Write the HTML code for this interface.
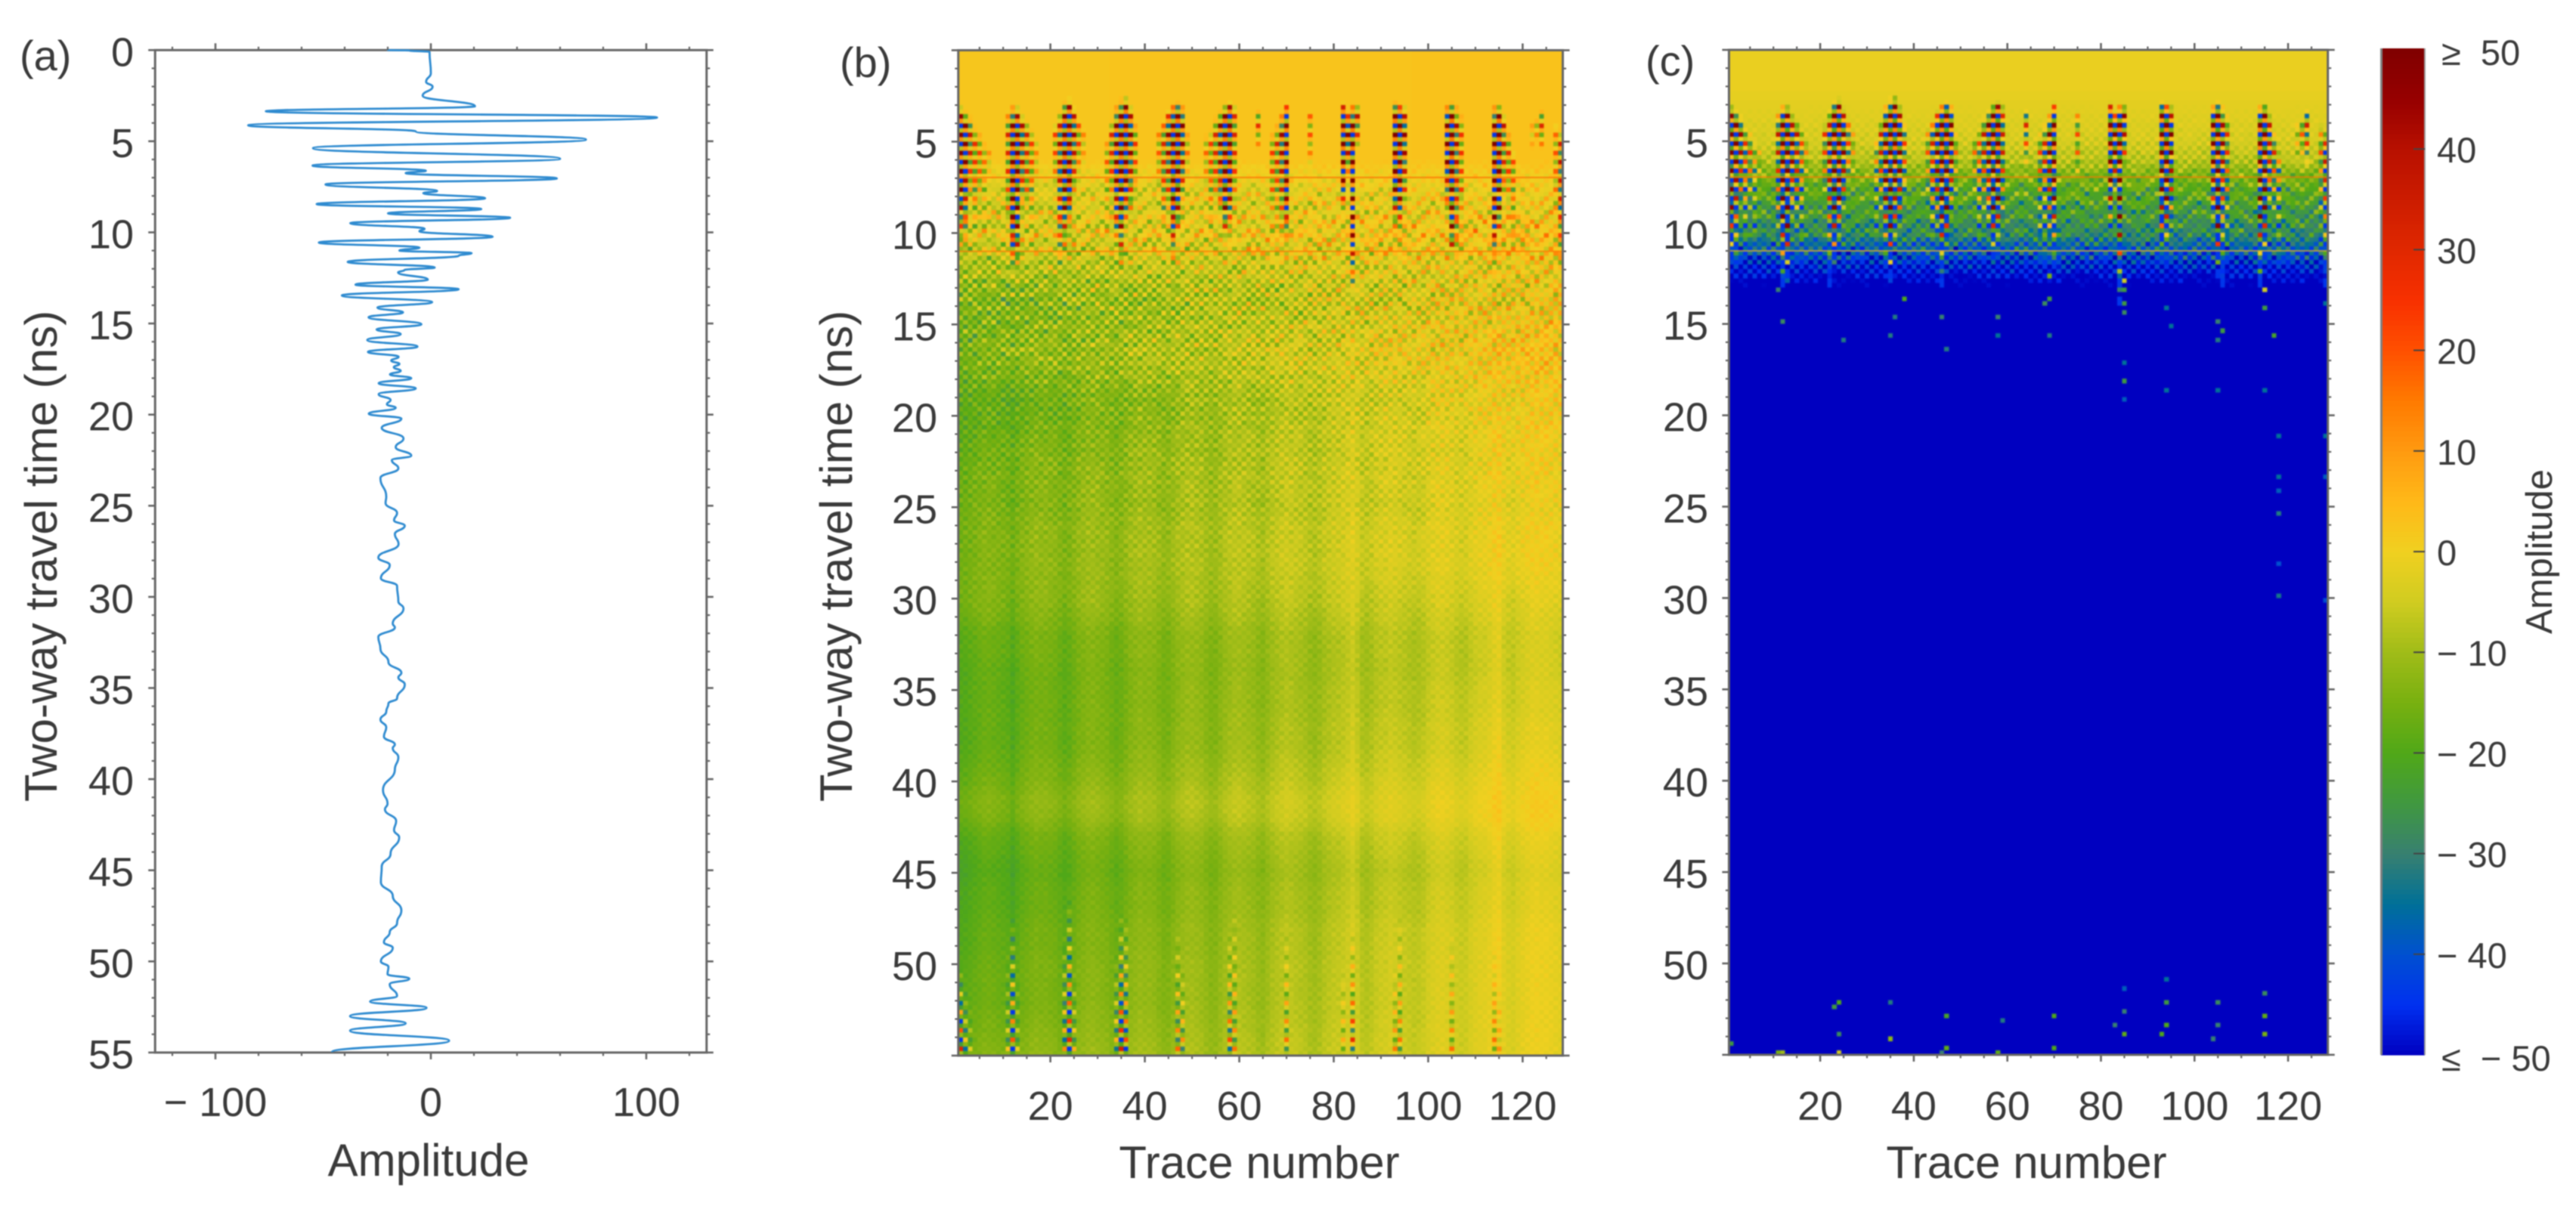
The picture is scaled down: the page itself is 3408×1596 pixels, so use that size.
<!DOCTYPE html>
<html lang="en">
<head>
<meta charset="utf-8">
<title>GPR traces and amplitude panels</title>
<style>
html,body{margin:0;padding:0;background:#fff;width:3408px;height:1596px;overflow:hidden}
svg{display:block;filter:blur(.7px)}
text{font-family:"Liberation Sans",Arial,sans-serif;fill:#3a3a3a;white-space:pre}
</style>
</head>
<body>
<svg id="figure" xmlns="http://www.w3.org/2000/svg" width="3408" height="1596" viewBox="0 0 3408 1596">
  <defs>
    <filter id="cellBlur" x="-2%" y="-2%" width="104%" height="104%" color-interpolation-filters="sRGB"><feGaussianBlur stdDeviation="0.9"/></filter>
    <clipPath id="clipB"><rect x="1267.8" y="66.5" width="799.8" height="1330.5"/></clipPath>
    <clipPath id="clipC"><rect x="2287.4" y="66" width="792.4" height="1330"/></clipPath>
    <clipPath id="clipA"><rect x="205.5" y="60" width="728.5" height="1333"/></clipPath>
  </defs>
  <rect width="3408" height="1596" fill="#fff"/>

  <g id="panelA"></g>
  <g id="panelB"></g>
  <g id="panelC"></g>
  <g id="colorbar"></g>

  <text x="26" y="93" font-size="56">(a)</text>
  <text x="1111" y="102" font-size="56">(b)</text>
  <text x="2177" y="100" font-size="56">(c)</text>

  <text transform="translate(75,736) rotate(-90)" text-anchor="middle" font-size="60">Two-way travel time (ns)</text>
  <text transform="translate(1127,736) rotate(-90)" text-anchor="middle" font-size="60">Two-way travel time (ns)</text>
  <text x="567" y="1556" text-anchor="middle" font-size="60">Amplitude</text>
  <text x="1666" y="1559" text-anchor="middle" font-size="60">Trace number</text>
  <text x="2681" y="1559" text-anchor="middle" font-size="60">Trace number</text>
  <text transform="translate(3376,730) rotate(-90)" text-anchor="middle" font-size="49">Amplitude</text>
</svg>

<script>
// ---------- panel (a): single trace, turning points ----------
const traceTimes = [0,0.02,0.1,1.27,1.74,2.01,2.5,3.08,3.36,3.7,4.13,4.46,4.91,5.38,5.96,6.34,6.62,6.75,7.04,7.37,7.73,7.85,8.13,8.45,8.72,8.96,9.2,9.5,9.8,9.94,10.24,10.56,10.84,11,11.14,11.28,11.62,11.93,12.07,12.2,12.59,12.87,13.12,13.46,13.83,14.13,14.39,14.66,15.04,15.33,15.58,15.91,16.27,16.56,16.83,17.04,17.22,17.4,17.6,17.8,18,18.28,18.56,18.88,19.2,19.43,19.63,19.95,20.22,20.73,21.3,21.79,22.25,22.5,22.95,23.48,24.5,24.85,25.4,25.8,26.1,26.55,27.1,27.85,28.25,28.98,29.4,30.25,30.63,31.47,31.68,32.2,32.84,33.58,34.17,34.42,34.8,35.57,35.85,36.3,36.73,37.15,37.67,38.1,38.3,38.8,39.47,40.6,41.35,41.66,42.3,42.8,43.2,44.1,44.8,45.65,46.4,47.2,47.9,48.4,48.95,49.25,50,50.3,50.7,50.95,51.25,51.9,52.2,52.55,53,53.4,53.8,54.35,54.97];
const traceAmplitudes = [-20,-10,-0.6,0,-2.2,0.8,-3.8,20.5,-76.6,105,-84.8,-7,72,-54.7,60,-54.9,-2.3,-11.7,58.5,-48.9,2.9,-3.5,25.2,-53,23.4,-19.9,36.8,-37.4,-2.9,-5.3,28.7,-52,-5.3,-14.6,18.9,13,-38.6,1.8,-12.3,-15.2,-1.4,-35,12.9,-41.3,0.6,-24.8,-12.9,-28.9,-4.4,-25.2,-14,-29.5,-6.2,-29.2,-15,-18.4,-14.6,-17.2,-14,-19,-9.1,-24.2,-7,-24.2,-18.7,-20.4,-16.3,-28.8,-13.7,-22.8,-12.7,-16.3,-9.1,-18.1,-15.1,-23.4,-20.7,-21,-15.7,-17.1,-12.1,-16.7,-15,-24.4,-19.1,-23.2,-15.7,-15.1,-12.7,-17.7,-16.7,-24.4,-23.4,-19.7,-13.7,-15.1,-12.1,-15.7,-19.7,-20.7,-23.4,-20.7,-21.8,-16.7,-17.7,-15.1,-16.7,-22.2,-20.1,-21.3,-16.1,-17.1,-14.7,-18.7,-22.8,-23.2,-17.7,-13.7,-15.7,-19.1,-21.8,-17.7,-23.2,-19.7,-20.1,-10,-19.1,-15.7,-28.2,-2,-37.5,-11.7,-37.5,8.5,-45.9];
const amplitudeTicks = [-100,0,100];
const amplitudeTickLabels = ["− 100","0","100"];
const timeTicksA = [0,5,10,15,20,25,30,35,40,45,50,55];
const timeTicksImage = [5,10,15,20,25,30,35,40,45,50];
const traceTicks = [20,40,60,80,100,120];

// ---------- colour scale ----------
const colorStops = [-50,-45,-40,-35,-30,-25,-20,-15,-10,-5,0,5,10,15,20,25,30,40,45,50];
const colorValues = ["#0000c0","#0030f0","#0050d0","#007098","#388070","#409840","#50a818","#78b010","#a0bc18","#d0cc20","#f0d020","#ffb818","#ff9a10","#ff7a00","#ff5000","#f83000","#e02800","#b81000","#960000","#800000"];
const colorbarTicks = [50,40,30,20,10,0,-10,-20,-30,-40,-50];
const colorbarLabels = ["≥  50","40","30","20","10","0","− 10","− 20","− 30","− 40","≤  − 50"];

// ---------- heatmap background, one value per nanosecond (0..55) ----------
const bgLeft = [2,2,2,2,2,2,2,-2,-4,-4,-3,-6,-9,-13,-15,-15,-14,-14,-16,-18,-18,-17,-16,-15,-15,-15,-14,-14,-14,-14,-14,-15,-17,-17,-18,-18,-18,-18,-18,-17,-16,-14,-15,-18,-19,-20,-19,-19,-18,-18,-17,-17,-17,-16,-15,-14];
const bgRight = [3,3,3,3,3,3,3,1,0,1,3,2,0,0,1,2,3,3,2,1,1,1,0,0,0,-1,0,0,0,-1,-2,-3,-4,-4,-4,-3,-3,-2,-2,-1,0,1,1,-1,-2,-3,-2,-2,-1,-1,-1,-1,-1,-1,-1,-1];
const bandWeight = [0,0,0,0,0,0,0,0,0,0,0,0,0,0,0,0.1,0.2,0.2,0.3,0.3,0.4,0.4,0.4,0.5,0.5,0.5,0.5,0.5,0.5,0.5,0.6,0.6,0.6,0.6,0.6,0.6,0.6,0.6,0.6,0.6,0.6,0.6,0.6,0.6,0.6,0.6,0.6,0.6,0.6,0.6,0.6,0.6,0.6,0.6,0.6,0.6];
const checkerB = [0,0,0,0,0,0,0,2,4,5,6,6,6,7,7,6,6,5,5,4,4,3,3,3,2.5,2.5,2,2,1.5,1.5,1.5,1.2,1.2,1,1,1,1,1,1,1,1,0.8,0.8,0.8,0.8,0.8,0.8,0.8,0.8,0.8,0.8,0.8,0.8,0.8,0.8,0.8];
const rippleB = [0,0,0,0,0,0,0,2,4,5,6,6,3,3,2,2,2,1,1,0,0,0,0,0,0,0,0,0,0,0,0,0,0,0,0,0,0,0,0,0,0,0,0,0,0,0,0,0,0,0,0,0,0,0,0,0];

// panel (c) per-nanosecond levels
const bgC = [-1,-1,-1,-2,-3,-4,-7,-15,-20,-24,-28,-38,-48,-56,
  -60,-60,-60,-60,-60,-60,-60,-60,-60,-60,
  -60,-60,-60,-60,-60,-60,-60,-60,-60,-60,
  -60,-60,-60,-60,-60,-60,-60,-60,-60,-60,
  -60,-60,-60,-60,-60,-60,-60,-60,-60,-60,
  -60,-60];
const checkerC = [0,0,0,0,1,2,3,4,4,4,5,6,7,4,0,0,0,0,0,0,0,0,0,0,0,0,0,0,0,0,0,0,0,0,0,0,0,0,0,0,0,0,0,0,0,0,0,0,0,0,0,0,0,0,0,0];
const rippleC = [0,0,0,0,0,0,0,4,6,5,5,3,0,0,0,0,0,0,0,0,0,0,0,0,0,0,0,0,0,0,0,0,0,0,0,0,0,0,0,0,0,0,0,0,0,0,0,0,0,0,0,0,0,0,0,0];

// one value per trace (1..128): vertical banding and chevron shift of ripple rows
const traceBand = [-3,-3,-2,-1,0,1,1,0,-1,-2,-3,-6,-3,-1,0,1,2,1,1,0,-1,-3,-5,-4,-2,0,1,2,2,1,0,-1,-3,-5,-4,-2,0,1,2,1,1,0,-2,-4,-4,-2,0,1,2,2,1,0,-2,-4,-4,-2,0,1,2,2,1,0,-1,-3,-4,-2,0,1,2,3,2,1,0,-1,-3,-4,-3,-1,0,1,1,2,3,5,2,-2,-3,-2,0,1,1,2,1,0,-1,-2,-3,-3,-2,0,1,2,2,1,0,-2,-3,-3,-1,0,1,1,2,4,5,0,-2,-3,-1,0,1,2,2,1,1,0,-1,-2];
const moveout = [0,1,1,2,2,3,3,3,2,2,1,1,0,1,1,2,2,3,3,3,2,2,1,1,0,0,1,2,2,3,3,3,2,2,1,0,0,1,1,2,3,3,3,2,1,1,0,0,1,2,2,3,3,2,2,1,0,0,1,1,2,3,3,3,2,1,1,0,1,1,2,2,3,3,3,2,1,1,0,1,2,2,3,3,2,1,1,0,1,2,2,3,3,2,1,0,0,1,2,3,3,3,2,1,0,1,1,2,3,3,2,1,1,0,1,2,2,3,3,2,1,1,0,1,2,3,3,2];

// strength of the fine texture, tile of 11 rows by 13 traces
const textureTile = [
[1.3,0.5,0.9,1.5,0.3,1.0,0.7,1.4,0.4,1.1,0.6,1.5,0.8],
[0.6,1.4,0.3,0.8,1.2,0.5,1.5,0.4,1.0,0.7,1.3,0.2,1.1],
[0.9,0.2,1.5,0.6,1.0,1.4,0.3,0.8,1.3,0.5,0.9,1.2,0.4],
[1.5,0.7,0.4,1.2,0.5,0.8,1.1,0.3,0.6,1.5,0.2,0.9,1.3],
[0.3,1.1,0.8,0.2,1.4,0.6,0.5,1.3,1.0,0.4,1.2,0.7,0.6],
[1.0,0.5,1.3,0.9,0.3,1.2,0.8,0.6,1.5,0.2,0.7,1.4,0.4],
[0.7,1.5,0.2,1.1,0.8,0.4,1.4,0.9,0.3,1.2,0.6,0.5,1.3],
[1.2,0.4,0.9,0.5,1.5,0.7,0.2,1.1,0.8,0.6,1.4,1.0,0.3],
[0.4,1.0,1.4,0.3,0.6,1.3,0.9,0.5,1.2,0.8,0.2,1.5,0.7],
[1.4,0.8,0.5,1.0,0.2,0.9,1.2,0.7,0.4,1.3,1.1,0.3,0.6],
[0.5,1.2,0.7,1.4,0.9,0.3,0.6,1.5,1.1,0.2,0.8,0.4,1.0]];

// wave shapes over four samples (about 1 ns)
const wavelet = [1,0.15,-0.85,-0.15];
const rippleShape = [-1,-0.3,1,0.3];
const burstFloor = -44;

// ---------- high-amplitude columns near the top ----------
const burstTraces = [1,2,3,4,5,6,7, 11,12,13,14,15,16,17, 21,22,23,24,25,26,27, 32,33,34,35,36,37,38, 43,44,45,46,47,48,49, 53,54,55,56,57,58,59, 64, 67,68,69,70, 75, 82,83,84,85, 93,94,95, 104,105,106,107, 114,115,116,117,118, 122,123,124, 127,128];
const burstStarts = [3,3.2,3.6,4.1,4.5,5,5.4, 3.3,3,3,3.5,3.8,4.2,4.8, 4,3.2,2.7,2.6,3.1,3.8,4.3, 4.8,3.8,3,2.6,2.5,3,4, 4.3,3.7,3.2,2.9,2.7,3,4.5, 4.6,4.3,3.6,3.2,2.9,2.7,2.9, 3.2, 4.5,4,3.4,2.8, 3.3, 2.8,3.4,2.9,3, 2.7,2.9,3, 3,2.7,3,3.5, 3,2.9,3.5,4.5,5.5, 4,3.7,3.2, 4,4.3];
const burstEnds = [10.5,11,8,10,9,10,7, 10,12.5,12,9,9,10,8, 8,12,11,10,8,7,6.5, 10,9,11,12,10,9,8, 8,10,9,12,10,9,7, 8,10,9,9.5,10.5,10,9, 5.5, 10,11,10,11, 6.5, 9,7,13.5,5.5, 10,10,9, 9,11.5,12,10, 12.5,10.5,8,9,11, 5.5,5,5.5, 10,12];
const burstAmps = [65,55,36,26,22,16,10, 30,75,75,44,32,22,12, 22,42,75,75,44,24,12, 18,30,58,75,80,48,25, 18,30,45,75,80,48,16, 16,22,30,48,75,85,30, 28, 22,30,42,70, 20, 75,50,75,38, 75,80,45, 60,80,40,24, 75,80,36,26,22, 10,18,30, 18,36];

// ---------- rising columns near the bottom of panel (b), ending at 55 ns ----------
const tailTraces = [1,2,3,11,12,13,23,24,25,34,35,36,47,48,58,59,70,82,84,93,94,105,114,115];
const tailStarts = [50,51,52,49,47,50,48,46,50,49,47,47,48,50,48,47,48,50,48,50,47,48,49,51];
const tailAmps = [50,25,14,18,42,14,28,50,20,25,48,38,28,26,34,24,26,16,36,20,24,20,20,12];

// ---------- isolated bright cells in the saturated part of panel (c) ----------
const speckTraces = [11,38,36,12,25,35,46,47,85,85,85,85,85,85,85,69,69,68,69,58,58,94,95,105,105,118,118,118,118,118,118,128,128,128,128,117,115,115,115,106,105,94, 24,23,35,47,24,35,35,47,46,59,58,70,70,85,83,85,85,94,94,93,94,12,11,1,24,105,105,104,115,115,115];
const speckTimes = [13,13.5,14.6,14.9,15.8,15.7,14.7,16.3,12.5,13.2,13.8,14.4,18.1,17.1,19.1,12.4,13.5,13.9,15.7,14.7,15.7,14,15,14.8,15.8,21,23.3,25.4,29.9,24.2,28,21,23.3,30,13.9,15.6,13,14,18.5,15.4,18.5,18.5, 52.1,52.3,52.2,52.9,53.8,54,54.1,54.7,54.9,53,54.8,52.9,54.6,53.8,53.4,52.6,51.4,52.1,53.4,53.8,50.9,54.9,54.9,54.3,54.9,52.1,53.4,54.2,51.7,52.8,53.8];
const speckValues = [-30,-20,-32,-28,-32,-32,-30,-32,-5,-25,-25,-28,-25,-35,-38,-15,-25,-28,-32,-30,-35,-35,-35,-30,-32,-35,-35,-32,-33,-38,-40,-35,-38,-40,-35,-22,-5,-25,-35,-25,-35,-35, -20,-25,-32,-22,-28,-12,-12,-18,-30,-32,-18,-20,-20,-18,-30,-30,-38,-25,-20,-20,-35,-10,-15,-25,-5,-28,-30,-30,-28,-18,-15];

// ---------- horizontal hairlines ----------
const hairTimes = [6.96,11];
const hairValuesB = [18,16];
const hairValuesC = [16,5];

// ---------- axis functions ----------
const xA = v => 570 + v * 2.85;
const yA = t => 66.3 + t * 24.12;
const xB = v => 1267.8 + (v - 0.5) * 6.248;
const yB = t => 66.5 + t * 24.19;
const xC = v => 2287.4 + (v - 0.5) * 6.19;
const yC = t => 66 + t * 24.18;
const yBar = v => 730 - v * 13.32;

const NS = 'http://www.w3.org/2000/svg';
const AXIS = '#666666';

function make(tag, parent, attrs) {
  const el = document.createElementNS(NS, tag);
  for (const k in attrs) el.setAttribute(k, attrs[k]);
  parent.appendChild(el);
  return el;
}
function tick(parent, x1, y1, x2, y2, w, name) {
  const el = make('line', parent, {x1, y1, x2, y2, stroke: AXIS, 'stroke-width': w});
  
  
}
function label(parent, x, y, str, anchor, size, name) {
  const el = make('text', parent, {x, y, 'text-anchor': anchor, 'font-size': size});
  el.textContent = str;
  
  
}
function frameAndTicks(parent, sx, sy, xMin, xMax, xMajor, xMinorStep, yMajor) {
  const L = sx(xMin), R = sx(xMax), T = sy(0), B = sy(55);
  for (let v = Math.ceil(xMin / xMinorStep) * xMinorStep; v <= xMax; v += xMinorStep) {
    const major = xMajor.includes(v), len = major ? 9 : 4.5, w = major ? 2.6 : 2.2;
    tick(parent, sx(v), T, sx(v), T - len, w, 'top-tick');
    tick(parent, sx(v), B, sx(v), B + len, w, 'bottom-tick');
  }
  for (let t = 0; t <= 55; t++) {
    const major = t % 5 === 0, len = major ? 9 : 4.5, w = major ? 2.6 : 2.2;
    tick(parent, L, sy(t), L - len, sy(t), w, 'left-tick');
    tick(parent, R, sy(t), R + len, sy(t), w, 'right-tick');
  }
  const fr = make('rect', parent, {x: L, y: T, width: R - L, height: B - T, fill: 'none', stroke: AXIS, 'stroke-width': 3});
  
  
}

// ---------- colour helpers ----------
function hex(c) { return [parseInt(c.slice(1,3),16), parseInt(c.slice(3,5),16), parseInt(c.slice(5,7),16)]; }
function colorOf(v) {
  v = Math.max(-50, Math.min(50, v));
  let k = 0;
  while (k < colorStops.length - 2 && v > colorStops[k + 1]) k++;
  const f = (v - colorStops[k]) / (colorStops[k + 1] - colorStops[k]);
  const a = hex(colorValues[k]), b = hex(colorValues[k + 1]);
  return 'rgb(' + [0,1,2].map(n => Math.round(a[n] + (b[n] - a[n]) * f)).join(',') + ')';
}
function level(arr, t) {
  const k = Math.max(0, Math.min(54, Math.floor(t)));
  return arr[k] + (arr[k + 1] - arr[k]) * (t - k);
}
function textureAt(i, j) { return textureTile[(j * 3) % 11][(i * 5) % 13]; }

// ---------- heatmap sampling ----------
const TRACES = 128, SAMPLES = 220, DT = 0.25;
const burstByTrace = {};
burstTraces.forEach((tr, n) => { (burstByTrace[tr] = burstByTrace[tr] || []).push(n); });
const tailByTrace = {};
tailTraces.forEach((tr, n) => { (tailByTrace[tr] = tailByTrace[tr] || []).push(n); });

function burstAt(i, j, t, stretch) {
  const list = burstByTrace[i];
  if (!list) return 0;
  let sum = 0;
  for (const n of list) {
    const a = burstStarts[n], b = burstEnds[n] + stretch;
    if (t < a || t > b) continue;
    const f = (t - a) / (b - a);
    sum += burstAmps[n] * Math.min(1, f * 8) * (1 - f * f * f) * wavelet[(j + i * 2) % 4];
  }
  return sum;
}
function tailAt(i, j, t) {
  const list = tailByTrace[i];
  if (!list) return 0;
  let sum = 0;
  for (const n of list) {
    if (t < tailStarts[n]) continue;
    sum += tailAmps[n] * (t - tailStarts[n]) / (55 - tailStarts[n]) * wavelet[(j + i * 2) % 4];
  }
  return sum;
}
function valueB(i, j) {
  const t = (j + 0.5) * DT, mix = (i - 1) / 127, tex = textureAt(i, j);
  let v = level(bgLeft, t) + (level(bgRight, t) - level(bgLeft, t)) * mix;
  v += traceBand[i - 1] * level(bandWeight, t);
  v += level(checkerB, t) * ((i + j) % 2 ? 1 : -1) * tex;
  v += level(rippleB, t) * rippleShape[(j + moveout[i - 1]) % 4] * (0.4 + tex * 0.6);
  const b = burstAt(i, j, t, 0) + tailAt(i, j, t);
  v += b;
  if (b < 0 && v < burstFloor) v = burstFloor;
  return v;
}
const speckGrid = {};
speckTraces.forEach((tr, n) => {
  const j = Math.min(SAMPLES - 1, Math.floor(speckTimes[n] / DT));
  speckGrid[tr + '_' + j] = speckValues[n];
});
function valueC(i, j) {
  const key = i + '_' + j;
  if (key in speckGrid) return speckGrid[key];
  const t = (j + 0.5) * DT, tex = textureAt(i, j);
  let v = level(bgC, t);
  v += level(checkerC, t) * ((i + j) % 2 ? 1 : -1) * tex;
  v += level(rippleC, t) * rippleShape[(j + moveout[i - 1]) % 4] * (0.4 + tex * 0.6);
  const b = burstAt(i, j, t, 1) * 1.3;
  v += b;
  if (b < 0 && v < burstFloor) v = burstFloor;
  return v;
}

function drawHeatmap(parent, sx, sy, valueAt, clipId, baseColor, cellName) {
  const quant = v => Math.max(-50, Math.min(50, Math.round(v * 2) / 2));
  const clip = make('g', parent, {'clip-path': 'url(#' + clipId + ')'});
  const blur = make('g', clip, {filter: 'url(#cellBlur)', 'shape-rendering': 'crispEdges'});
  const bg = make('rect', blur, {x: sx(0.5) - 10, y: sy(0) - 10, width: sx(128.5) - sx(0.5) + 20, height: sy(55) - sy(0) + 20, fill: baseColor});
  
  
  for (let j = 0; j < SAMPLES; j++) {
    const y0 = sy(j * DT), y1 = sy((j + 1) * DT);
    let start = 1, cur = quant(valueAt(1, j));
    for (let i = 2; i <= TRACES + 1; i++) {
      const val = i <= TRACES ? quant(valueAt(i, j)) : null;
      if (val !== cur) {
        const extra = (j === 0 ? 10 : 0);
        const el = document.createElementNS(NS, 'rect');
        el.setAttribute('x', sx(start - 0.5));
        el.setAttribute('y', y0 - extra);
        el.setAttribute('width', sx(i - 0.5) - sx(start - 0.5));
        el.setAttribute('height', y1 - y0 + extra + (j === SAMPLES - 1 ? 10 : 0));
        el.setAttribute('fill', colorOf(cur));
        
        
        blur.appendChild(el);
        start = i; cur = val;
      }
    }
  }
  return clip;
}
function drawHairlines(clip, sx, sy, values) {
  hairTimes.forEach((t, n) => {
    const el = make('rect', clip, {x: sx(0.5), y: sy(t) - 1.2, width: sx(128.5) - sx(0.5), height: 2.4, fill: colorOf(values[n]), opacity: 0.55});
    
    
  });
}

// ---------- panel (a) ----------
(function () {
  const g = document.getElementById('panelA');
  frameAndTicks(g, xA, yA, -128, 128, amplitudeTicks, 20, timeTicksA);
  let d = 'M' + xA(traceAmplitudes[0]) + ' ' + yA(traceTimes[0]);
  for (let n = 1; n < traceTimes.length; n++) {
    const x0 = xA(traceAmplitudes[n - 1]), y0 = yA(traceTimes[n - 1]);
    const x1 = xA(traceAmplitudes[n]), y1 = yA(traceTimes[n]);
    const h = (y1 - y0) * 0.5;
    d += ' C' + x0.toFixed(1) + ' ' + (y0 + h).toFixed(1) + ' ' + x1.toFixed(1) + ' ' + (y1 - h).toFixed(1) + ' ' + x1.toFixed(1) + ' ' + y1.toFixed(1);
  }
  const clip = make('g', g, {'clip-path': 'url(#clipA)'});
  const line = make('path', clip, {d, fill: 'none', stroke: '#2f8bd0', 'stroke-width': 2.8, 'stroke-linejoin': 'round'});
  
  
  timeTicksA.forEach(t => label(g, 177, yA(t) + 21, String(t), 'end', 54, 'y-tick-label'));
  amplitudeTicks.forEach((v, n) => label(g, xA(v), 1477, amplitudeTickLabels[n], 'middle', 54, 'x-tick-label'));
})();

// ---------- panel (b) ----------
(function () {
  const g = document.getElementById('panelB');
  const clip = drawHeatmap(g, xB, yB, valueB, 'clipB', '#c0c020', 'heatmap-b-cell');
  drawHairlines(clip, xB, yB, hairValuesB);
  frameAndTicks(g, xB, yB, 0.5, 128.5, traceTicks, 5, timeTicksImage);
  timeTicksImage.forEach(t => label(g, 1240, yB(t) + 21, String(t), 'end', 54, 'y-tick-label'));
  traceTicks.forEach(v => label(g, xB(v), 1482, String(v), 'middle', 54, 'x-tick-label'));
})();

// ---------- panel (c) ----------
(function () {
  const g = document.getElementById('panelC');
  const clip = drawHeatmap(g, xC, yC, valueC, 'clipC', '#0000c0', 'heatmap-c-cell');
  drawHairlines(clip, xC, yC, hairValuesC);
  frameAndTicks(g, xC, yC, 0.5, 128.5, traceTicks, 5, timeTicksImage);
  timeTicksImage.forEach(t => label(g, 2260, yC(t) + 21, String(t), 'end', 54, 'y-tick-label'));
  traceTicks.forEach(v => label(g, xC(v), 1482, String(v), 'middle', 54, 'x-tick-label'));
})();

// ---------- colour bar ----------
(function () {
  const g = document.getElementById('colorbar');
  const L = 3150, R = 3208;
  for (let v = -50; v < 50; v += 0.5) {
    const el = make('rect', g, {x: L, y: yBar(v + 0.5), width: R - L, height: yBar(v) - yBar(v + 0.5) + 0.6, fill: colorOf(v + 0.25)});
    
    
  }
  const edgeL = make('rect', g, {x: L - 1, y: yBar(50), width: 3, height: yBar(-50) - yBar(50), fill: '#808080'});
  
  
  const edgeR = make('rect', g, {x: R - 1, y: yBar(50), width: 2, height: yBar(-50) - yBar(50), fill: '#a0a0a0'});
  
  
  colorbarTicks.forEach((v, n) => {
    const end = (v === 50 || v === -50);
    if (!end) {
      const t = make('line', g, {x1: R - 15, x2: R, y1: yBar(v), y2: yBar(v), stroke: '#444', 'stroke-width': 2});
      
      
    }
    const x = end ? 3230 : 3224;
    const y = v === 50 ? 86 : v === -50 ? 1417 : yBar(v) + 18;
    label(g, x, y, colorbarLabels[n], 'start', 47, 'colorbar-tick-label');
  });
})();
</script>
</body>
</html>
